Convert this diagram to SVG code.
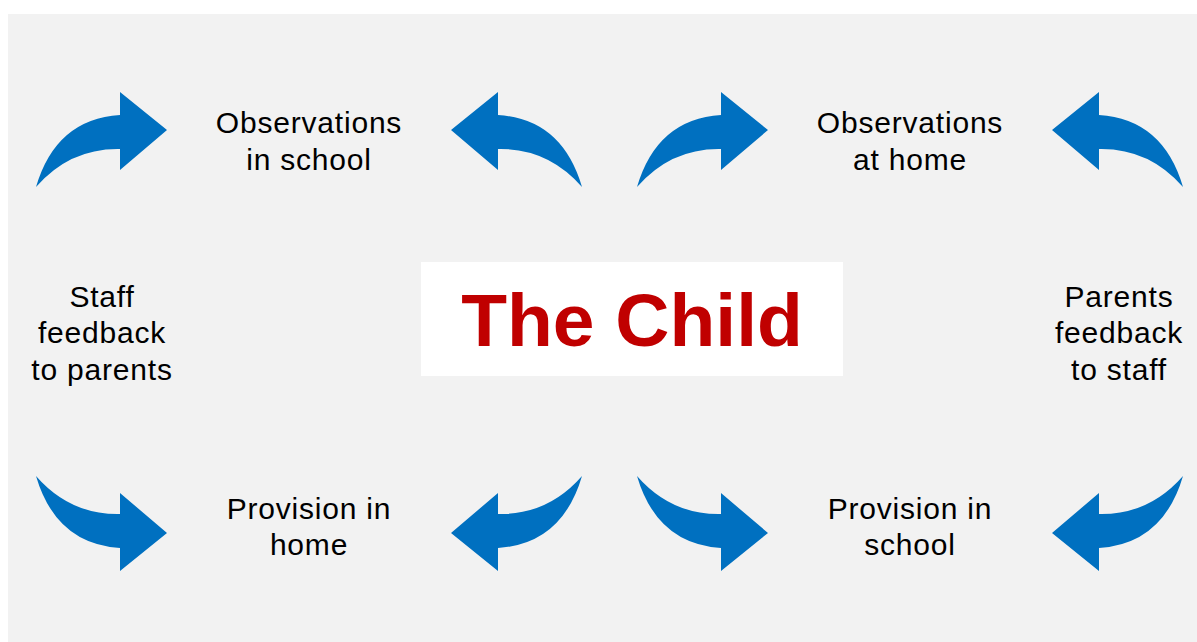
<svg xmlns="http://www.w3.org/2000/svg" xmlns:xlink="http://www.w3.org/1999/xlink" width="1197" height="642" viewBox="0 0 1197 642">
<style>
.lbl{font-family:"Liberation Sans",Arial,sans-serif;font-size:30px;fill:#000;text-anchor:middle;letter-spacing:0.8px}
.title{font-family:"Liberation Sans",Arial,sans-serif;font-size:75px;font-weight:bold;fill:#C00000;text-anchor:middle}
.arrow{fill:#0070C0}
</style>
<defs>
<path id="arr" class="arrow" d="M36,187 Q56,119 120,115 L120,92 L167,130 L120,170 L120,149 Q70,148 36,187 Z"/>
</defs>
<rect x="0" y="0" width="1197" height="642" fill="#FFFFFF"/>
<rect x="8" y="14" width="1189" height="628" fill="#F2F2F2"/>
<g id="connectors">
<use xlink:href="#arr"/>
<use xlink:href="#arr" transform="matrix(-1,0,0,1,618,0)"/>
<use xlink:href="#arr" transform="translate(601,0)"/>
<use xlink:href="#arr" transform="matrix(-1,0,0,1,1219,0)"/>
<use xlink:href="#arr" transform="matrix(1,0,0,-1,0,663)"/>
<use xlink:href="#arr" transform="matrix(-1,0,0,-1,618,663)"/>
<use xlink:href="#arr" transform="matrix(1,0,0,-1,601,663)"/>
<use xlink:href="#arr" transform="matrix(-1,0,0,-1,1219,663)"/>
</g>
<g id="child">
<rect x="421" y="262" width="422" height="114" fill="#FFFFFF"/>
<text class="title" x="632" y="346">The Child</text>
</g>
<g id="obs-school">
<text class="lbl" x="309" y="133">Observations</text>
<text class="lbl" x="309" y="170">in school</text>
</g>
<g id="obs-home">
<text class="lbl" x="910" y="133">Observations</text>
<text class="lbl" x="910" y="170">at home</text>
</g>
<g id="staff-feedback">
<text class="lbl" x="102" y="307">Staff</text>
<text class="lbl" x="102" y="343">feedback</text>
<text class="lbl" x="102" y="380">to parents</text>
</g>
<g id="parents-feedback">
<text class="lbl" x="1119" y="307">Parents</text>
<text class="lbl" x="1119" y="343">feedback</text>
<text class="lbl" x="1119" y="380">to staff</text>
</g>
<g id="prov-home">
<text class="lbl" x="309" y="519">Provision in</text>
<text class="lbl" x="309" y="555">home</text>
</g>
<g id="prov-school">
<text class="lbl" x="910" y="519">Provision in</text>
<text class="lbl" x="910" y="555">school</text>
</g>
</svg>
